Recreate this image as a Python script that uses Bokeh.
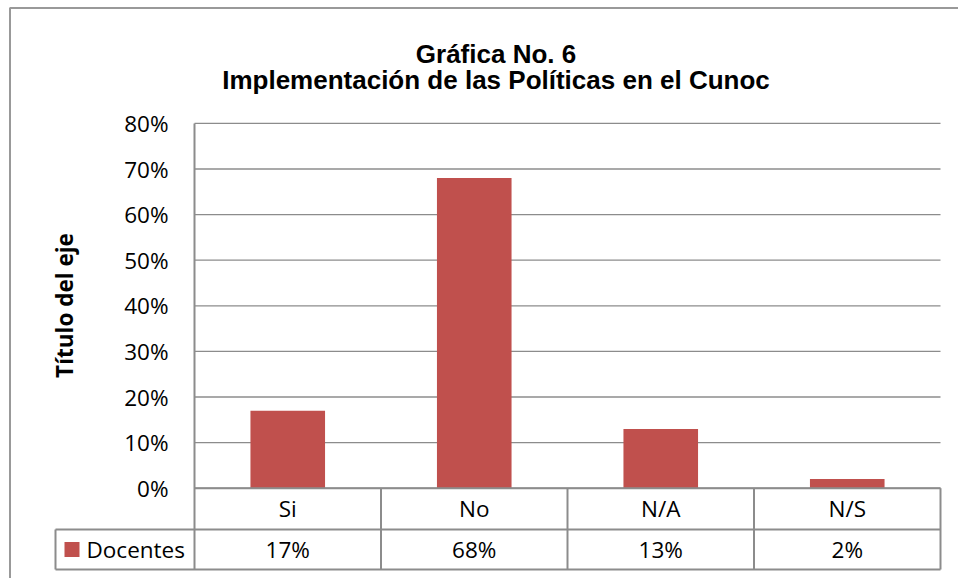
import numpy as np
from bokeh.plotting import figure
from bokeh.models import ColumnDataSource, Range1d
from bokeh.core.properties import value
from bokeh.embed import file_html
from bokeh.resources import INLINE

# ---- data ----
categories = ["Si", "No", "N/A", "N/S"]
docentes = [0.17, 0.68, 0.13, 0.02]
series_name = "Docentes"
y_ticks = [0.0, 0.1, 0.2, 0.3, 0.4, 0.5, 0.6, 0.7, 0.8]
y_tick_labels = ["0%", "10%", "20%", "30%", "40%", "50%", "60%", "70%", "80%"]
title_lines = ["Gráfica No. 6", "Implementación de las Políticas en el Cunoc"]
y_axis_title = "Título del eje"

# ---- layout geometry (page pixels) ----
W, H = 958, 578
OFF = 0
PLOT_LEFT = 194.0
CAT_W = 186.5
ZERO_Y = 487.7
PX_PER_UNIT = 456.0

def px2x(px):
    return (px - PLOT_LEFT) / CAT_W - 0.5

def py2y(py):
    return (ZERO_Y - py) / PX_PER_UNIT

GRAY = "#8c8c8c"
BAR = "#C0504D"
FONT = "Open Sans"
FS = "22.5px"

p = figure(width=W, height=H, output_backend="svg", toolbar_location=None,
           x_range=Range1d(px2x(OFF), px2x(OFF + W)),
           y_range=Range1d(py2y(OFF + H), py2y(OFF)),
           x_axis_location=None, y_axis_location=None,
           min_border=0, outline_line_color=None, tools="")
p.grid.visible = False
p.background_fill_color = "white"
p.border_fill_color = "white"

n = len(categories)
xs = list(range(n))
x_left = -0.5
x_right = n - 0.5
x_legend = px2x(55)
row1 = py2y(529)
row2 = py2y(569)

# outer chart border (top and left)
p.line([px2x(9.5), px2x(9.5), px2x(OFF + W)], [py2y(OFF + H), py2y(7.5), py2y(7.5)],
       line_color="#999999", line_width=2)

# gridlines
p.segment(x0=[x_left] * len(y_ticks), x1=[x_right] * len(y_ticks),
          y0=y_ticks, y1=y_ticks, line_color=GRAY, line_width=1.3)

# bars
src = ColumnDataSource(dict(x=xs, top=docentes, cat=categories,
                            lab=[f"{round(v * 100)}%" for v in docentes]))
p.vbar(x="x", top="top", bottom=0, width=0.4, source=src,
       fill_color=BAR, line_color=BAR, line_width=0)

# table lines
hx0 = [x_left, x_legend, x_legend]
hx1 = [x_right, x_right, x_right]
hy = [0.0, row1, row2]
p.segment(x0=hx0, x1=hx1, y0=hy, y1=hy, line_color=GRAY, line_width=2)
vxs = [x_left] + [i + 0.5 for i in range(n)]
p.segment(x0=vxs, x1=vxs, y0=[y_ticks[-1]] + [0.0] * n, y1=[row2] * (n + 1),
          line_color=GRAY, line_width=2)
p.segment(x0=[x_legend], x1=[x_legend], y0=[row1], y1=[row2],
          line_color=GRAY, line_width=2)

# y tick labels
p.text(x=[px2x(168)] * len(y_ticks), y=y_ticks, text=y_tick_labels,
       text_font=value(FONT), text_font_size=FS, text_color="black",
       text_align="right", text_baseline="middle")

# category row and value row
ymid1 = (0.0 + row1) / 2
ymid2 = (row1 + row2) / 2
p.text(x="x", y=ymid1, text="cat", source=src, text_font=value(FONT),
       text_font_size=FS, text_color="black", text_align="center",
       text_baseline="middle")
p.text(x="x", y=ymid2, text="lab", source=src, text_font=value(FONT),
       text_font_size=FS, text_color="black", text_align="center",
       text_baseline="middle")

# legend key in table
p.rect(x=[px2x(71.5)], y=[ymid2], width=15, height=15, width_units="screen",
       height_units="screen", fill_color=BAR, line_color=None)
p.text(x=[px2x(86)], y=[ymid2], text=[series_name], text_font=value(FONT),
       text_font_size=FS, text_color="black", text_align="left",
       text_baseline="middle")

# axis title
p.text(x=[px2x(64)], y=[py2y(305)], text=[y_axis_title], angle=np.pi / 2,
       text_font=value(FONT), text_font_style="bold", text_font_size="22.5px",
       text_color="black", text_align="center", text_baseline="middle")

# chart title
p.text(x=[px2x(495.5)] * 2, y=[py2y(53), py2y(79)], text=title_lines,
       text_font=value("Liberation Sans"), text_font_style="bold",
       text_font_size="26px", text_color="black", text_align="center",
       text_baseline="alphabetic")

open("out.html", "w").write(file_html(p, INLINE))
